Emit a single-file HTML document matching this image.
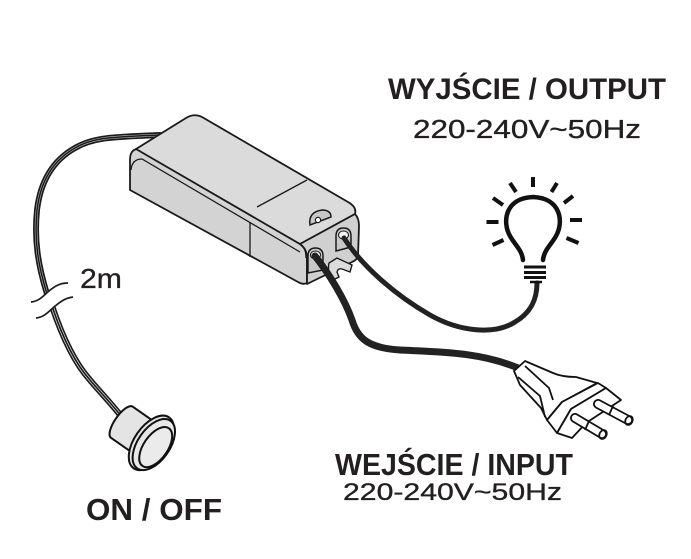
<!DOCTYPE html>
<html>
<head>
<meta charset="utf-8">
<style>
html,body{margin:0;padding:0;background:#fff;}
svg{display:block;}
text{font-family:"Liberation Sans","DejaVu Sans",sans-serif;fill:#231f20;}
</style>
</head>
<body>
<svg width="691" height="559" viewBox="0 0 691 559" xmlns="http://www.w3.org/2000/svg">
<rect width="691" height="559" fill="#fff"/>

<!-- sensor cable upper part -->
<g fill="none" stroke-linecap="round">
  <path d="M160,135 C120,137 95,136 75,148 C50,162 40,185 37,210 C34,240 38,265 47,294" stroke="#1a1a1a" stroke-width="6"/>
  <path d="M160,135 C120,137 95,136 75,148 C50,162 40,185 37,210 C34,240 38,265 47,294" stroke="#bdbdbd" stroke-width="2.6"/>
  <path d="M160,135 C120,137 95,136 75,148 C50,162 40,185 37,210 C34,240 38,265 47,294" stroke="#1a1a1a" stroke-width="1.5"/>
  <!-- lower part -->
  <path d="M52,306 C60,330 72,360 90,380 C100,392 110,402 121,416" stroke="#1a1a1a" stroke-width="6.2"/>
  <path d="M52,306 C60,330 72,360 90,380 C100,392 110,402 121,416" stroke="#e0e0e0" stroke-width="3"/>
  <path d="M52,306 C60,330 72,360 90,380 C100,392 110,402 121,416" stroke="#1a1a1a" stroke-width="1.6"/>
</g>
<!-- break mask -->
<path d="M32,302 C40,300 44,295 48,292 C54,287 60,283 67,283 L72,297 C64,298 58,303 53,308 C48,313 43,317 37,318 Z" fill="#fff"/>
<path d="M31,302 C40,301 44,295 49,291 C55,286 60,283 68,283" fill="none" stroke="#1c1c1c" stroke-width="1.7"/>
<path d="M36,318 C45,317 49,311 54,307 C60,302 65,298 73,297" fill="none" stroke="#1c1c1c" stroke-width="1.7"/>

<!-- button -->
<g transform="translate(153,444) rotate(35)" stroke="#111" stroke-width="2" stroke-linejoin="round">
  <path d="M-38,-19 L-4,-19 L-4,19 L-38,19 A7,19 0 0 1 -38,-19 Z" fill="#e4e4e4"/>
  <ellipse cx="-2" cy="0" rx="17" ry="31" fill="#e2e2e2"/>
  <ellipse cx="1" cy="0" rx="16" ry="29" fill="#e8e8e8"/>
  <ellipse cx="4" cy="1" rx="12" ry="23" fill="#ebebeb"/>
</g>

<!-- device box -->
<g stroke="#1a1a1a" stroke-width="1.8" stroke-linejoin="round">
  <path d="M130,160 Q130,150 137,149 L300,244 Q307,249 307,258 L307,283 Q303,285 298,282 L130,190 Z" fill="#d3d3d3"/>
  <path d="M136,149 L186,118 Q194,113 202,117 L348,202 Q357,207 355,214 L300,244 Z" fill="#dbdbdb"/>
  <path d="M300,244 L355,214 Q359,218 359,226 L358,256 Q357,260 352,262 L307,284 L307,258 Q307,249 300,244 Z" fill="#d0d0d0"/>
</g>
<g fill="none" stroke="#1a1a1a" stroke-width="1.3">
  <path d="M131,170 Q132,159 142,159 L300,252"/>
  <path d="M257,207 L307,180"/>
  <path d="M250,222 L250,257"/>
  <path d="M303,247 Q306,250 306,258"/>
</g>
<!-- sensor -->
<path d="M310,225 Q308,212 322,210 Q331,210 331,217 Z" fill="#c8c8c8" stroke="#1a1a1a" stroke-width="1.5"/>
<circle cx="318" cy="220" r="2.6" fill="#fff" stroke="#1a1a1a" stroke-width="1.2"/>
<!-- tab -->
<path d="M329,263 L337,258 L352,265 L350,272 L342,269 Q338,268 337,272 L339,277 L333,280 Q327,273 329,263 Z" fill="#dcdcdc" stroke="#1a1a1a" stroke-width="1.4"/>
<!-- sockets -->
<path d="M308,273 L308,256 Q308,248 315.5,248 Q323,248 323,256 L323,270 Z" fill="#c9c9c9" stroke="#1a1a1a" stroke-width="1.5"/>
<ellipse cx="315.5" cy="255" rx="5" ry="4" fill="#f2f2f2" stroke="#1a1a1a" stroke-width="1"/>
<path d="M336,251 L336,236 Q336,228 343.5,228 Q351,228 351,236 L351,247 Z" fill="#c9c9c9" stroke="#1a1a1a" stroke-width="1.5"/>
<ellipse cx="343.5" cy="235" rx="5" ry="4" fill="#f2f2f2" stroke="#1a1a1a" stroke-width="1"/>

<!-- wires -->
<path d="M344,238 C362,266 395,295 430,315 C460,332 495,335 515,322 C532,312 537,298 537,283" fill="none" stroke="#222" stroke-width="5" stroke-linecap="round"/>
<path d="M315,256 C330,275 345,300 352,320 C358,340 370,348 400,350 C440,352 480,352 518,368" fill="none" stroke="#222" stroke-width="7" stroke-linecap="round"/>

<!-- bulb -->
<g fill="none" stroke="#111" stroke-linecap="butt">
  <path d="M523,260 C522,250 515,245 510,236 C502,222 505,198 533,197 C561,198 564,222 556,236 C551,245 544,250 543,260" stroke-width="4.5" stroke-linecap="round"/>
  <path d="M524,267 L546,267 M524,272.5 L546,272.5 M524,277.5 L546,277.5" stroke-width="3"/>
  <path d="M530,282 L542,282" stroke-width="2.5"/>
  <g stroke-width="4">
    <path d="M533,177 L533,187"/>
    <path d="M510,183 L516,192"/>
    <path d="M557,183 L551.5,192"/>
    <path d="M493,198 L503,205"/>
    <path d="M573,196 L564,203"/>
    <path d="M486.5,222 L498.5,222"/>
    <path d="M570,220 L582,220"/>
    <path d="M492.5,245 L503.5,240"/>
    <path d="M566.5,238 L578.5,243"/>
  </g>
</g>

<!-- plug -->
<g stroke="#111" stroke-width="1.8" stroke-linejoin="round" fill="#fff">
  <path d="M514,371 L525,361 L553,373 Q562,377 576,377 L597,383 L562,402 L547,420 L541,408 L520,385 Z"/>
  <path d="M518,377 L540,396 L545,417 M525,366 L549,388 L553,400" fill="none"/>
  <path d="M547,420 L562,402 L598,383 L606,388 L571,409 L557,433 Z"/>
  <path d="M571,409 L606,388 L621,400 L586,423 L572,438 L557,433 Z"/>
  <path d="M598,404 L628,420" stroke="#111" stroke-width="10" stroke-linecap="round"/>
  <path d="M598,404 L628,420" stroke="#fff" stroke-width="6.4" stroke-linecap="round"/>
  <path d="M613,406 L609,415" fill="none"/>
  <ellipse cx="629" cy="420.5" rx="3.5" ry="4.6" transform="rotate(28 629 420.5)" fill="none"/>
  <path d="M575,418 L602,434" stroke="#111" stroke-width="10" stroke-linecap="round"/>
  <path d="M575,418 L602,434" stroke="#fff" stroke-width="6.4" stroke-linecap="round"/>
  <path d="M589,421 L585,430" fill="none"/>
  <ellipse cx="603" cy="434.5" rx="3.5" ry="4.6" transform="rotate(28 603 434.5)" fill="none"/>
</g>

<!-- text -->
<text x="388" y="99" font-size="30" font-weight="bold" textLength="278" lengthAdjust="spacingAndGlyphs">WYJŚCIE / OUTPUT</text>
<text x="413" y="138" font-size="25.5" stroke="#231f20" stroke-width="0.35" textLength="228" lengthAdjust="spacingAndGlyphs">220-240V~50Hz</text>
<text x="335" y="475" font-size="30.5" font-weight="bold" textLength="238" lengthAdjust="spacingAndGlyphs">WEJŚCIE / INPUT</text>
<text x="343" y="500" font-size="24.5" stroke="#231f20" stroke-width="0.35" textLength="219" lengthAdjust="spacingAndGlyphs">220-240V~50Hz</text>
<text x="86" y="520" font-size="30.5" font-weight="bold" textLength="136" lengthAdjust="spacingAndGlyphs">ON / OFF</text>
<text x="80" y="288" font-size="28" stroke="#231f20" stroke-width="0.3" textLength="42" lengthAdjust="spacingAndGlyphs">2m</text>
</svg>
</body>
</html>
